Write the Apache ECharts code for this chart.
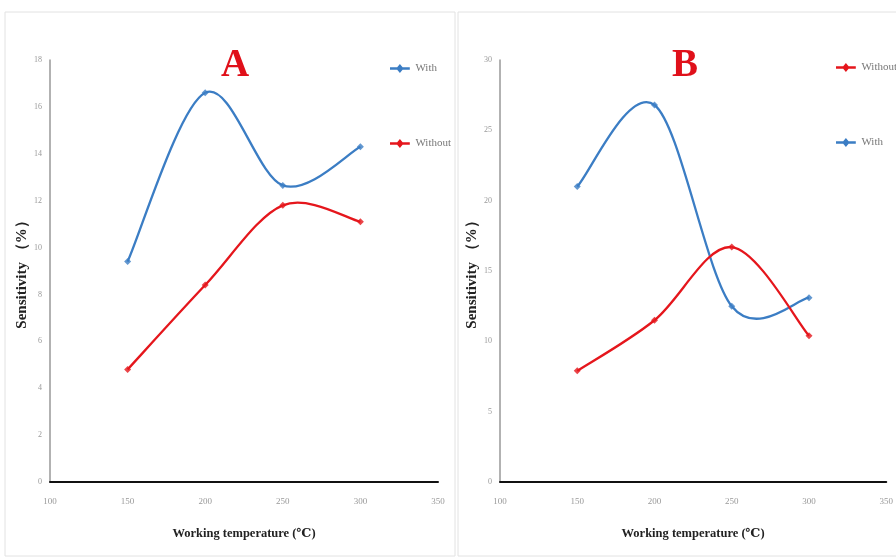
<!DOCTYPE html>
<html><head><meta charset="utf-8">
<script src="https://cdn.jsdelivr.net/npm/echarts@6/dist/echarts.min.js"></script>
<style>html,body{margin:0;padding:0;background:#fff}#c{width:896px;height:558px}</style>
</head><body><div id="c"></div>
<script>
const temperatures = [150, 200, 250, 300];
const xTicks = [100, 150, 200, 250, 300, 350];
const aWith = [9.4, 16.6, 12.65, 14.3];
const aWithout = [4.8, 8.4, 11.8, 11.1];
const bWith = [21.0, 26.8, 12.5, 13.1];
const bWithout = [7.9, 11.5, 16.7, 10.4];
const yTicksA = [0, 2, 4, 6, 8, 10, 12, 14, 16, 18];
const yTicksB = [0, 5, 10, 15, 20, 25, 30];

const BLUE = '#3b7dc4', RED = '#e5161c';
const pairs = v => temperatures.map((t, i) => [t, v[i]]);
const serif = '"Liberation Serif","DejaVu Serif",serif';
const ICON = 'path://M0,3.6L8,3.6L11,0L14,3.6L22,3.6L22,6.4L14,6.4L11,10L8,6.4L0,6.4Z';

function xAxis(gi) {
  return {
    gridIndex: gi, type: 'value', min: xTicks[0], max: xTicks[xTicks.length - 1], interval: 50,
    axisLine: { lineStyle: { color: '#111', width: 2 } }, axisTick: { show: false }, splitLine: { show: false },
    axisLabel: { color: '#999', fontFamily: serif, fontSize: 9, margin: 15 },
    name: 'Working temperature (℃)', nameLocation: 'middle', nameGap: 45,
    nameTextStyle: { fontFamily: serif, fontWeight: 'bold', fontSize: 12.5, color: '#222' }
  };
}
function yAxis(gi, ticks) {
  return {
    gridIndex: gi, type: 'value', min: ticks[0], max: ticks[ticks.length - 1], interval: ticks[1] - ticks[0],
    axisLine: { show: true, lineStyle: { color: '#999', width: 1.5 } }, axisTick: { show: false }, splitLine: { show: false },
    axisLabel: { color: '#999', fontFamily: serif, fontSize: 8, margin: 8 },
    name: 'Sensitivity （%）', nameLocation: 'middle', nameGap: 9, nameRotate: 90,
    nameTextStyle: { fontFamily: serif, fontWeight: 'bold', fontSize: 15, color: '#222' }
  };
}
// Excel-style smoothed curve (Catmull-Rom -> Bezier) drawn through the data points via axis coordinates
function curve(name, values, color, gi) {
  return {
    name, type: 'custom', xAxisIndex: gi, yAxisIndex: gi, data: pairs(values), encode: { x: 0, y: 1 },
    color, z: 2,
    renderItem: function (params, api) {
      const i = params.dataIndex, n = values.length;
      if (i >= n - 1) return null;
      const p = values.map((v, k) => api.coord([temperatures[k], v]));
      const P0 = p[Math.max(i - 1, 0)], P1 = p[i], P2 = p[i + 1], P3 = p[Math.min(i + 2, n - 1)];
      return {
        type: 'bezierCurve',
        shape: {
          x1: P1[0], y1: P1[1], x2: P2[0], y2: P2[1],
          cpx1: P1[0] + (P2[0] - P0[0]) / 6, cpy1: P1[1] + (P2[1] - P0[1]) / 6,
          cpx2: P2[0] - (P3[0] - P1[0]) / 6, cpy2: P2[1] - (P3[1] - P1[1]) / 6
        },
        style: { stroke: color, lineWidth: 2.3, fill: null }
      };
    }
  };
}
function markers(name, values, color, gi) {
  return {
    name, type: 'scatter', xAxisIndex: gi, yAxisIndex: gi, data: pairs(values),
    symbol: 'diamond', symbolSize: 7, color, itemStyle: { color }, z: 3
  };
}

const chart = echarts.init(document.getElementById('c'));
chart.setOption({
  animation: false,
  backgroundColor: '#fff',
  graphic: [
    { type: 'rect', shape: { x: 5, y: 12, width: 450, height: 544 }, style: { fill: 'none', stroke: '#e2e2e2', lineWidth: 1 } },
    { type: 'rect', shape: { x: 458, y: 12, width: 445, height: 544 }, style: { fill: 'none', stroke: '#e2e2e2', lineWidth: 1 } }
  ],
  title: [
    { text: 'A', left: 216, top: 41, textStyle: { color: '#e0101a', fontFamily: serif, fontWeight: 'bold', fontSize: 39 } },
    { text: 'B', left: 667, top: 41, textStyle: { color: '#e0101a', fontFamily: serif, fontWeight: 'bold', fontSize: 39 } }
  ],
  grid: [
    { left: 50, right: 458, top: 60, bottom: 76 },
    { left: 500, right: 8, top: 60, bottom: 76 }
  ],
  xAxis: [xAxis(0), xAxis(1)],
  yAxis: [yAxis(0, yTicksA), yAxis(1, yTicksB)],
  legend: [
    { data: [{ name: 'With', icon: ICON }, { name: 'Without', icon: ICON }], left: 388, top: 61, orient: 'vertical',
      itemGap: 64, itemWidth: 21, itemHeight: 9, itemStyle: { borderWidth: 0 }, padding: 2,
      textStyle: { fontFamily: serif, fontSize: 11, color: '#777' }, selectedMode: false },
    { data: [{ name: 'Without ', icon: ICON }, { name: 'With ', icon: ICON }], left: 834, top: 60, orient: 'vertical',
      itemGap: 64, itemWidth: 21, itemHeight: 9, itemStyle: { borderWidth: 0 }, padding: 2,
      textStyle: { fontFamily: serif, fontSize: 11, color: '#777' }, selectedMode: false }
  ],
  series: [
    curve('With', aWith, BLUE, 0), markers('With', aWith, BLUE, 0),
    curve('Without', aWithout, RED, 0), markers('Without', aWithout, RED, 0),
    curve('With ', bWith, BLUE, 1), markers('With ', bWith, BLUE, 1),
    curve('Without ', bWithout, RED, 1), markers('Without ', bWithout, RED, 1)
  ]
});
</script></body></html>
